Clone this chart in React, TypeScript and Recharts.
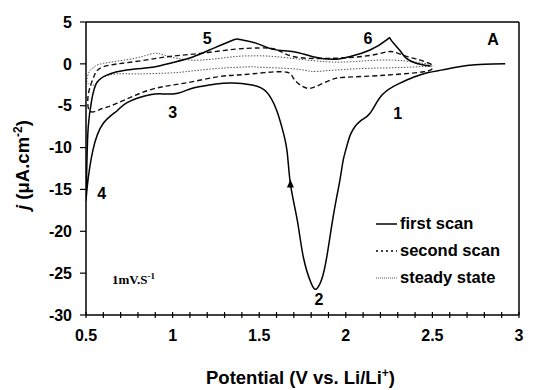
import React from 'react';
import { LineChart, Line, XAxis, YAxis, ReferenceLine, ReferenceDot, Legend, Label } from 'recharts';

// potential (V vs Li/Li+) and current density (uA/cm2), in scan order
const firstV = [2.92, 2.8, 2.7, 2.62, 2.55, 2.47, 2.39, 2.31, 2.21, 2.14, 2.08, 2.03, 2.005, 1.985, 1.965, 1.93, 1.89, 1.86, 1.83, 1.8, 1.755, 1.72, 1.68, 1.66, 1.63, 1.6, 1.54, 1.45, 1.35, 1.25, 1.16, 1.1, 1.03, 0.95, 0.87, 0.74, 0.68, 0.6, 0.54, 0.507, 0.5, 0.505, 0.513, 0.533, 0.56, 0.62, 0.735, 0.87, 1.0, 1.12, 1.235, 1.35, 1.39, 1.485, 1.58, 1.7, 1.81, 1.93, 2.02, 2.14, 2.24, 2.26, 2.31, 2.35, 2.41, 2.49];
const firstJ = [0.0, -0.05, -0.2, -0.47, -0.75, -1.06, -1.6, -2.33, -3.7, -5.9, -6.9, -8.3, -9.9, -11.5, -14.0, -17.9, -23.1, -25.8, -26.9, -26.2, -23.1, -18.7, -14.3, -10.3, -7.5, -5.5, -3.3, -2.5, -2.3, -2.4, -2.7, -3.0, -3.5, -3.6, -3.7, -4.6, -5.6, -7.1, -10.3, -14.7, -16.1, -12.0, -7.5, -4.3, -2.33, -1.34, -0.74, -0.44, 0.15, 0.85, 1.85, 2.85, 2.9, 2.45, 1.73, 1.45, 0.85, 0.54, 0.85, 1.65, 2.93, 2.9, 1.65, 0.65, 0.05, -0.26];

const secondV = [2.5, 2.45, 2.3, 2.15, 2.0, 1.93, 1.86, 1.8, 1.75, 1.7, 1.66, 1.53, 1.4, 1.26, 1.07, 0.87, 0.68, 0.6, 0.575, 0.55, 0.52, 0.51, 0.52, 0.546, 0.6, 0.777, 0.97, 1.16, 1.35, 1.5, 1.6, 1.7, 1.89, 2.08, 2.2, 2.27, 2.35, 2.43, 2.5];
const secondJ = [-0.6, -0.95, -1.25, -1.45, -1.6, -1.8, -2.4, -2.9, -2.7, -1.8, -1.0, -1.05, -1.3, -1.55, -2.3, -3.1, -4.7, -5.3, -5.5, -5.7, -5.6, -4.5, -3.0, -1.5, -0.35, 0.25, 0.85, 1.25, 1.73, 1.9, 1.7, 0.85, 0.65, 0.85, 1.25, 1.45, 0.9, 0.45, -0.1];

const steadyV = [2.5, 2.3, 2.1, 1.9, 1.8, 1.7, 1.5, 1.45, 1.26, 1.07, 0.97, 0.8, 0.68, 0.6, 0.56, 0.53, 0.51, 0.505, 0.52, 0.546, 0.6, 0.777, 0.89, 0.95, 1.03, 1.16, 1.35, 1.45, 1.6, 1.89, 2.1, 2.27, 2.4, 2.5];
const steadyJ = [-0.25, -0.45, -0.55, -0.8, -0.9, -0.6, -0.4, -0.35, -0.55, -0.95, -1.1, -1.2, -1.2, -1.6, -2.3, -2.6, -2.3, -1.9, -0.9, -0.4, 0.06, 0.65, 1.25, 1.05, 0.65, 0.45, 0.85, 0.95, 0.85, 0.25, 0.35, 0.45, 0.2, -0.1];

const xTicks = [0.5, 0.6, 0.7, 0.8, 0.9, 1.0, 1.1, 1.2, 1.3, 1.4, 1.5, 1.6, 1.7, 1.8, 1.9, 2.0, 2.1, 2.2, 2.3, 2.4, 2.5, 2.6, 2.7, 2.8, 2.9, 3.0];
const xLabels = ['0.5', '1', '1.5', '2', '2.5', '3'];
const yTicks = [-30, -25, -20, -15, -10, -5, 0, 5];

const peakLabels = [
  { text: '1', v: 2.3, j: -5.9 },
  { text: '2', v: 1.845, j: -28.1 },
  { text: '3', v: 1.0, j: -5.8 },
  { text: '4', v: 0.59, j: -15.5 },
  { text: '5', v: 1.2, j: 3.1 },
  { text: '6', v: 2.128, j: 3.1 },
  { text: 'A', v: 2.85, j: 3.0 },
];

const toPoints = (v: number[], j: number[]) => v.map((x, i) => ({ v: x, j: j[i] }));
const firstData = toPoints(firstV, firstJ);
const secondData = toPoints(secondV, secondJ);
const steadyData = toPoints(steadyV, steadyJ);

const W = 541;
const H = 390;
const X_AXIS_H = 75;
const FONT = '"Liberation Sans", Arial, sans-serif';

const XTick = (props: any) => {
  const { x, payload } = props;
  const axisY = H - X_AXIS_H;
  const v = Number(payload.value);
  const lbl = xLabels.find((s) => Math.abs(Number(s) - v) < 1e-6);
  return (
    <g>
      <line x1={x} x2={x} y1={axisY - 3} y2={axisY + 3} stroke="#000" strokeWidth={1.2} />
      {lbl && (
        <text x={x} y={axisY + 25.5} textAnchor="middle" fontSize={16} fontWeight="bold" fontFamily={FONT} fill="#000">
          {lbl}
        </text>
      )}
    </g>
  );
};

const legendItems = [
  { name: 'first scan', dash: undefined, width: 1.5, color: '#000' },
  { name: 'second scan', dash: '2 3', width: 1.3, color: '#000' },
  { name: 'steady state', dash: '1 1', width: 1, color: '#555' },
];

const LegendBox = () => (
  <div style={{ fontFamily: FONT, fontWeight: 'bold', fontSize: 16.5, color: '#000' }}>
    {legendItems.map((it) => (
      <div key={it.name} style={{ display: 'flex', alignItems: 'center', height: 27 }}>
        <svg width={26} height={10}>
          <line x1={2} x2={23} y1={5} y2={5} stroke={it.color} strokeWidth={it.width} strokeDasharray={it.dash} />
        </svg>
        <span>{it.name}</span>
      </div>
    ))}
  </div>
);

export default function App() {
  return (
    <div style={{ position: 'absolute', left: 0, top: 0, width: W, height: H, background: '#fff' }}>
      <LineChart width={W} height={H} margin={{ top: 22, right: 22, left: 0, bottom: 0 }}>
        <XAxis
          type="number"
          dataKey="v"
          domain={[0.5, 3]}
          ticks={xTicks}
          interval={0}
          allowDataOverflow
          height={X_AXIS_H}
          axisLine={{ stroke: '#000', strokeWidth: 1.5 }}
          tickLine={false}
          tick={<XTick />}
        >
          <Label
            content={({ viewBox }: any) => (
              <text
                x={viewBox.x + viewBox.width / 2 - 2}
                y={viewBox.y + 69}
                textAnchor="middle"
                fontSize={18.5}
                fontWeight="bold"
                fontFamily={FONT}
                fill="#000"
              >
                Potential (V vs. Li/Li
                <tspan dy={-7} fontSize={12}>+</tspan>
                <tspan dy={7}>)</tspan>
              </text>
            )}
          />
        </XAxis>
        <YAxis
          type="number"
          domain={[-30, 5]}
          ticks={yTicks}
          interval={0}
          allowDataOverflow
          width={86}
          axisLine={{ stroke: '#000', strokeWidth: 1.5 }}
          tickLine={{ stroke: '#000', strokeWidth: 1.2 }}
          tickSize={6}
          tickMargin={8}
          tick={{ fontSize: 16, fontWeight: 'bold', fill: '#000', fontFamily: FONT }}
        >
          <Label
            content={() => (
              <text
                x={29}
                y={165}
                transform="rotate(-90 29 165)"
                textAnchor="middle"
                fontSize={18.5}
                fontWeight="bold"
                fontFamily={FONT}
                fill="#000"
              >
                <tspan fontStyle="italic">j</tspan> (μA.cm
                <tspan dy={-7} fontSize={12}>-2</tspan>
                <tspan dy={7}>)</tspan>
              </text>
            )}
          />
        </YAxis>
        <ReferenceLine y={5} stroke="#000" strokeWidth={1.5} />
        <ReferenceLine x={3} stroke="#000" strokeWidth={1.5} />
        <Line
          data={steadyData}
          dataKey="j"
          name="steady state"
          type="natural"
          stroke="#555"
          strokeWidth={1}
          strokeDasharray="1.5 1.5"
          dot={false}
          isAnimationActive={false}
        />
        <Line
          data={secondData}
          dataKey="j"
          name="second scan"
          type="natural"
          stroke="#111"
          strokeWidth={1.4}
          strokeDasharray="5 3"
          dot={false}
          isAnimationActive={false}
        />
        <Line
          data={firstData}
          dataKey="j"
          name="first scan"
          type="natural"
          stroke="#000"
          strokeWidth={1.5}
          dot={false}
          isAnimationActive={false}
        />
        <ReferenceDot
          x={1.68}
          y={-14.4}
          r={0}
          shape={(p: any) => (
            <polygon points={`${p.cx},${p.cy - 5} ${p.cx - 3.5},${p.cy + 3} ${p.cx + 3.5},${p.cy + 3}`} fill="#000" />
          )}
        />
        {peakLabels.map((pl) => (
          <ReferenceDot
            key={pl.text}
            x={pl.v}
            y={pl.j}
            r={0}
            shape={(p: any) => (
              <text x={p.cx} y={p.cy} dy="0.36em" textAnchor="middle" fontSize={16} fontWeight="bold" fontFamily={FONT} fill="#000">
                {pl.text}
              </text>
            )}
          />
        ))}
        <ReferenceDot
          x={0.65}
          y={-25.7}
          r={0}
          shape={(p: any) => (
            <text x={p.cx} y={p.cy} dy="0.36em" fontSize={13} fontWeight="bold" fontFamily='"Liberation Serif", "Times New Roman", serif' fill="#000">
              1mV.S
              <tspan dy={-5} fontSize={9}>-1</tspan>
            </text>
          )}
        />
        <Legend
          layout="vertical"
          align="center"
          verticalAlign="middle"
          content={() => <LegendBox />}
          wrapperStyle={{ left: 374, top: 210, width: 165, height: 85 }}
        />
      </LineChart>
    </div>
  );
}
